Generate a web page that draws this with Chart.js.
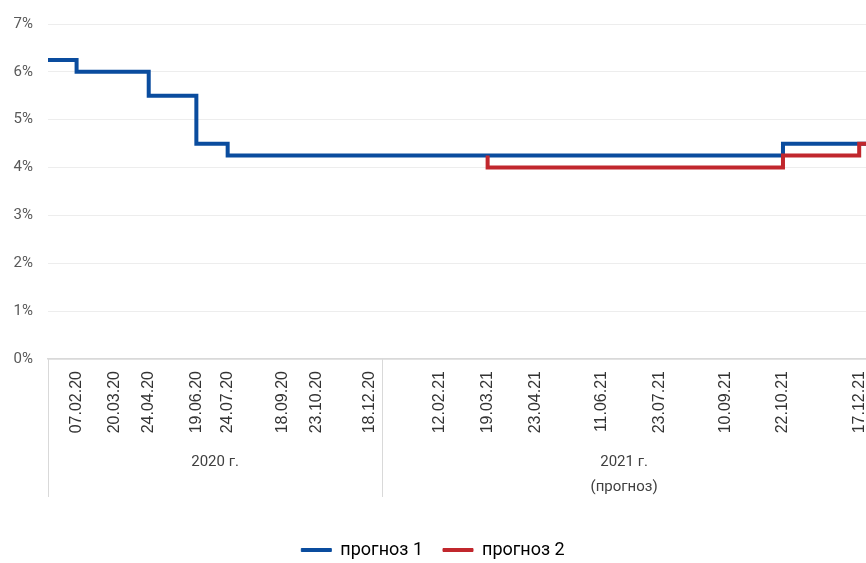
<!DOCTYPE html>
<html>
<head>
<meta charset="utf-8">
<script src="https://cdn.jsdelivr.net/npm/chart.js@4/dist/chart.umd.min.js"></script>
<style>
  html, body { margin: 0; padding: 0; background: #ffffff; }
  #wrap { width: 866px; height: 563px; position: relative; }
</style>
</head>
<body>
<div id="wrap"><canvas id="c" width="866" height="563"></canvas></div>
<script>
// Labelled meeting dates on the x axis
const tickLabels = ['07.02.20','20.03.20','24.04.20','19.06.20','24.07.20','18.09.20','23.10.20','18.12.20',
                    '12.02.21','19.03.21','23.04.21','11.06.21','23.07.21','10.09.21','22.10.21','17.12.21'];

// Public holidays of 2020 falling on weekdays (no rate quotes)
const holidays2020 = ['01.01.20','02.01.20','03.01.20','06.01.20','07.01.20','08.01.20','24.02.20','09.03.20',
                      '01.05.20','04.05.20','05.05.20','11.05.20','12.06.20','24.06.20','01.07.20','04.11.20'];
const axisStart = '01.01.20';
const axisEnd = '22.12.21';

// Key rate, scenario 1 (new rate from each date)
const series1Dates  = ['09.01.20','07.02.20','24.04.20','19.06.20','24.07.20','22.10.21','22.12.21'];
const series1Values = [6.25, 6.0, 5.5, 4.5, 4.25, 4.5, 4.5];

// Key rate, scenario 2
const series2Dates  = ['19.03.21','19.03.21','22.10.21','17.12.21','22.12.21'];
const series2Values = [4.25, 4.0, 4.25, 4.5, 4.5];

const seriesNames = ['прогноз 1', 'прогноз 2'];
const yearGroups = [['2020 г.'], ['2021 г.', '(прогноз)']];

// Axis calendar: working days of 2020 (actual data), every day of 2021 (forecast)
function fmt(d) {
  const p = n => String(n).padStart(2, '0');
  return p(d.getDate()) + '.' + p(d.getMonth() + 1) + '.' + String(d.getFullYear()).slice(2);
}
function parse(s) {
  const [dd, mm, yy] = s.split('.').map(Number);
  return new Date(2000 + yy, mm - 1, dd);
}
const categories = [];
let firstOf2021 = 0;
for (let d = parse(axisStart); d <= parse(axisEnd); d.setDate(d.getDate() + 1)) {
  const wd = d.getDay();
  const lab = fmt(d);
  if (d.getFullYear() === 2020 && (wd === 0 || wd === 6 || holidays2020.includes(lab))) continue;
  if (d.getFullYear() === 2021 && firstOf2021 === 0) firstOf2021 = categories.length;
  categories.push(lab);
}

const toPoints = (dates, vals) => dates.map((x, i) => ({ x: x, y: vals[i] }));

const BLUE = '#0a4c9e';
const RED = '#c1272d';
const AXIS = '#d9d9d9';

// Year brackets under the date labels
const yearBrackets = {
  id: 'yearBrackets',
  afterDraw(chart) {
    const ctx = chart.ctx;
    const xs = chart.scales.x;
    const area = chart.chartArea;
    const top = area.bottom;
    const bottom = 497;
    const split = (xs.getPixelForValue(firstOf2021 - 1) + xs.getPixelForValue(firstOf2021)) / 2;
    ctx.save();
    ctx.strokeStyle = AXIS;
    ctx.lineWidth = 1;
    [area.left, split].forEach(px => {
      const x = Math.round(px) + 0.5;
      ctx.beginPath();
      ctx.moveTo(x, top);
      ctx.lineTo(x, bottom);
      ctx.stroke();
    });
    ctx.fillStyle = '#404040';
    ctx.font = '15px Roboto, sans-serif';
    ctx.textAlign = 'center';
    ctx.textBaseline = 'middle';
    const centers = [(area.left + split) / 2, (split + area.right) / 2];
    yearGroups.forEach((lines, g) => {
      lines.forEach((t, k) => ctx.fillText(t, centers[g], 462 + k * 25));
    });
    ctx.restore();
  }
};

new Chart(document.getElementById('c'), {
  type: 'line',
  data: {
    labels: categories,
    datasets: [
      {
        label: seriesNames[0],
        data: toPoints(series1Dates, series1Values),
        borderColor: BLUE,
        backgroundColor: BLUE,
        borderWidth: 4,
        stepped: true,
        pointRadius: 0,
        fill: false,
        borderJoinStyle: 'miter',
        order: 2
      },
      {
        label: seriesNames[1],
        data: toPoints(series2Dates, series2Values),
        borderColor: RED,
        backgroundColor: RED,
        borderWidth: 4,
        stepped: true,
        pointRadius: 0,
        fill: false,
        borderJoinStyle: 'miter',
        order: 1
      }
    ]
  },
  options: {
    responsive: false,
    animation: false,
    layout: { padding: { top: 23, right: 0, left: 0, bottom: -6 } },
    plugins: {
      tooltip: { enabled: false },
      legend: {
        position: 'bottom',
        labels: {
          boxWidth: 30,
          boxHeight: 3,
          padding: 20,
          color: '#333333',
          font: { family: 'Roboto, sans-serif', size: 18 },
          sort: (a, b) => a.datasetIndex - b.datasetIndex,
          generateLabels: chart => chart.data.datasets.map((ds, i) => ({
            text: ds.label,
            fillStyle: ds.borderColor,
            strokeStyle: ds.borderColor,
            lineWidth: 1,
            datasetIndex: i,
            hidden: false
          }))
        }
      }
    },
    scales: {
      x: {
        type: 'category',
        offset: false,
        grid: { display: false, drawTicks: false },
        border: { display: true, color: AXIS, width: 1.5 },
        ticks: {
          autoSkip: false,
          maxRotation: 90,
          minRotation: 90,
          padding: 12,
          color: '#333333',
          font: { family: '"Liberation Sans", Arial, sans-serif', size: 16 },
          callback: function (v) {
            const lab = this.getLabelForValue(v);
            return tickLabels.includes(lab) ? lab : '';
          }
        },
        afterFit: s => { s.height = 162; s.paddingLeft = 0; s.paddingRight = 0; }
      },
      y: {
        min: 0,
        max: 7,
        grid: {
          drawTicks: false,
          color: ctx => ctx.tick && ctx.tick.value === 0 ? AXIS : '#ededed',
          lineWidth: ctx => ctx.tick && ctx.tick.value === 0 ? 1.5 : 1
        },
        border: { display: false },
        ticks: {
          stepSize: 1,
          padding: 15,
          color: '#595959',
          font: { family: 'Roboto, sans-serif', size: 15 },
          callback: v => v + '%'
        },
        afterFit: s => { s.width = 48; }
      }
    }
  },
  plugins: [yearBrackets]
});
</script>
</body>
</html>
